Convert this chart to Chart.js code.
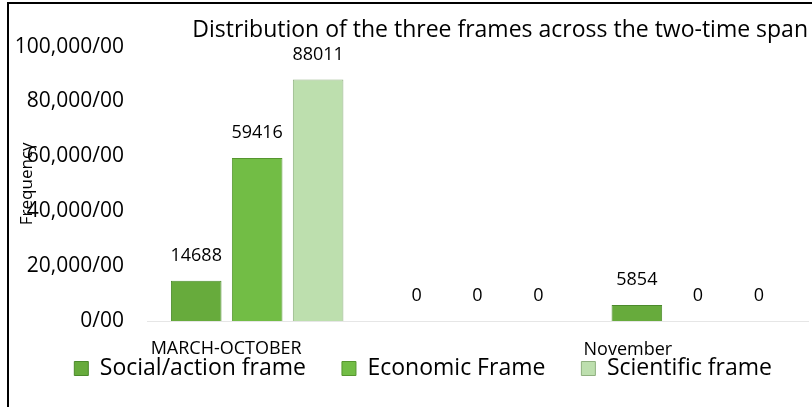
<!DOCTYPE html>
<html>
<head>
<meta charset="utf-8">
<script src="https://cdn.jsdelivr.net/npm/chart.js@4.4.1/dist/chart.umd.min.js"></script>
<style>
  body { margin: 0; background: #fff; }
</style>
</head>
<body>
<canvas id="myChart" width="812" height="407"></canvas>
<script>
var categories = ["MARCH-OCTOBER", "", "November"];
var socialAction = [14688, 0, 5854];
var economic = [59416, 0, 0];
var scientific = [88011, 0, 0];
var yTicks = [0, 20000, 40000, 60000, 80000, 100000];

Chart.defaults.font.family = "'Open Sans', sans-serif";
Chart.defaults.color = "#000";

// white page and the black frame round the chart (right and bottom edges fall outside)
var chartFrame = {
	id: "chartFrame",
	beforeDraw: function(chart) {
		var ctx = chart.ctx;
		ctx.save();
		ctx.fillStyle = "#fff";
		ctx.fillRect(0, 0, chart.width, chart.height);
		ctx.restore();
	},
	afterDraw: function(chart) {
		var ctx = chart.ctx;
		ctx.save();
		ctx.strokeStyle = "#000";
		ctx.lineWidth = 2;
		ctx.strokeRect(8, 3, 900, 500);
		ctx.restore();
	}
};

// values above the bars
var valueLabels = {
	id: "valueLabels",
	afterDatasetsDraw: function(chart) {
		var ctx = chart.ctx;
		ctx.save();
		ctx.font = "18px 'Open Sans'";
		ctx.fillStyle = "#000";
		ctx.textAlign = "center";
		ctx.textBaseline = "middle";
		chart.data.datasets.forEach(function(ds, i) {
			chart.getDatasetMeta(i).data.forEach(function(bar, j) {
				ctx.fillText(ds.data[j], bar.x, bar.y - 25);
			});
		});
		ctx.restore();
	}
};

// category names sit a little left of the groups, like the original
var catLabels = {
	id: "catLabels",
	afterDraw: function(chart) {
		var ctx = chart.ctx, x = chart.scales.x;
		var shift = [-31, 0, -70];
		ctx.save();
		ctx.font = "18px 'Open Sans'";
		ctx.fillStyle = "#000";
		ctx.textAlign = "center";
		ctx.textBaseline = "middle";
		chart.data.labels.forEach(function(l, i) {
			ctx.fillText(l, x.getPixelForValue(i) + shift[i], chart.chartArea.bottom + 28 + (i == 2 ? 1 : 0));
		});
		ctx.restore();
	}
};

var ctx = document.getElementById("myChart").getContext("2d");
var myChart = new Chart(ctx, {
	type: "bar",
	data: {
		labels: categories,
		datasets: [{
			label: "Social/action frame",
			data: socialAction,
			backgroundColor: "#67ab3c",
			borderColor: "#4b8a2b",
			borderWidth: 1
		}, {
			label: "Economic Frame",
			data: economic,
			backgroundColor: "#72bd45",
			borderColor: "#56962f",
			borderWidth: 1
		}, {
			label: "Scientific frame",
			data: scientific,
			backgroundColor: "#bddfae",
			borderColor: "#8fb07f",
			borderWidth: 1
		}]
	},
	options: {
		responsive: false,
		animation: false,
		devicePixelRatio: 1,
		layout: { padding: { top: 0, left: 0, right: 4, bottom: 17 } },
		datasets: { bar: { categoryPercentage: 0.83, barPercentage: 0.83 } },
		plugins: {
			title: {
				display: true,
				text: "Distribution of the three frames across the two-time span",
				align: "end",
				font: { size: 23, weight: "normal" },
				padding: { top: 17, bottom: 2 }
			},
			legend: {
				position: "bottom",
				align: "end",
				labels: { boxWidth: 14, boxHeight: 14, padding: 36, font: { size: 23 } }
			},
			tooltip: { enabled: false }
		},
		scales: {
			x: {
				grid: { display: false, drawTicks: false },
				border: { display: true, color: "#e6e6e6" },
				ticks: { display: false }
			},
			y: {
				min: 0,
				max: 100000,
				afterBuildTicks: function(axis) {
					axis.ticks = yTicks.map(function(v) { return { value: v }; });
				},
				afterFit: function(axis) {
					axis.width = 147;
				},
				grid: { display: false, drawTicks: false },
				border: { display: false },
				ticks: {
					padding: 23,
					font: { size: 21 },
					callback: function(v) { return v.toLocaleString("en-US") + "/00"; }
				},
				title: {
					display: true,
					text: "Frequency",
					font: { size: 17 },
					padding: { top: 17, bottom: 0 }
				}
			}
		}
	},
	plugins: [chartFrame, valueLabels, catLabels]
});
</script>
</body>
</html>
